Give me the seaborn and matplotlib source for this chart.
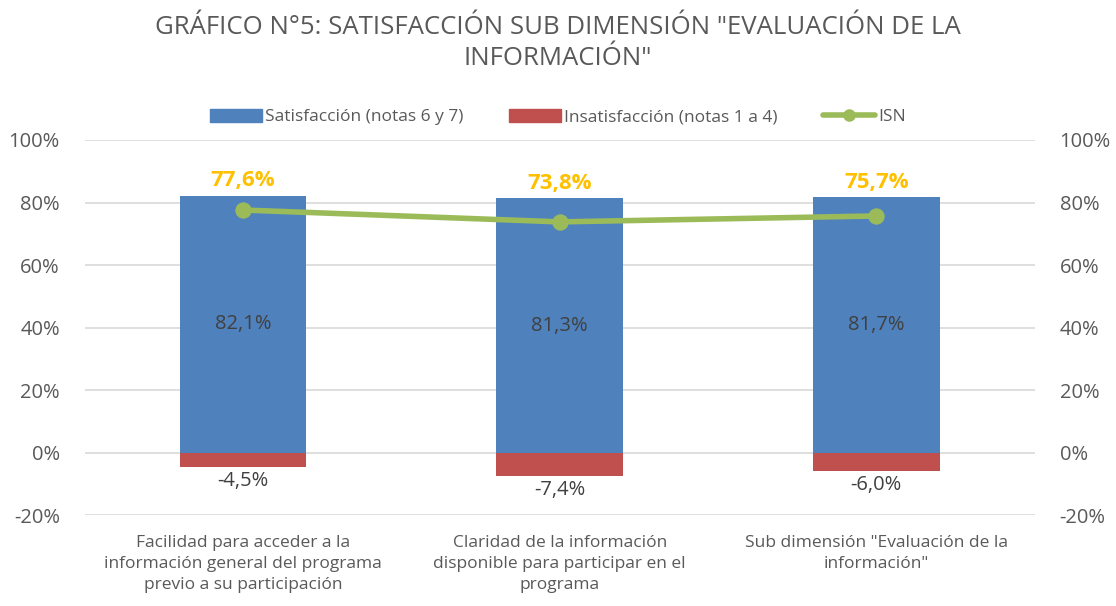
import matplotlib
matplotlib.use('Agg')
import matplotlib.pyplot as plt
import matplotlib.ticker as mtick
from matplotlib.patches import Patch
from matplotlib.lines import Line2D
import pandas as pd
import seaborn as sns

categorias = ['Facilidad para acceder a la\ninformación general del programa\nprevio a su participación',
              'Claridad de la información\ndisponible para participar en el\nprograma',
              'Sub dimensión "Evaluación de la\ninformación"']
satisfaccion = [82.1, 81.3, 81.7]
insatisfaccion = [-4.5, -7.4, -6.0]
isn = [77.6, 73.8, 75.7]

df = pd.DataFrame({'cat': categorias, 'sat': satisfaccion, 'ins': insatisfaccion, 'isn': isn})

sns.set_theme(style='white')
plt.rcParams['font.family'] = ['Open Sans', 'DejaVu Sans']

gris = '#595959'
azul = '#4F81BD'
rojo = '#C0504D'
verde = '#9BBB59'
naranja = '#FFC000'

fig = plt.figure(figsize=(11.16, 6.06), dpi=100)
ax = fig.add_axes([0.076, 0.150, 0.851, 0.619])

# barras
sns.barplot(data=df, x='cat', y='sat', color=azul, saturation=1, width=0.4, ax=ax, zorder=2)
sns.barplot(data=df, x='cat', y='ins', color=rojo, saturation=1, width=0.4, ax=ax, zorder=2)
for p in ax.patches:
    p.set_edgecolor('none')

# linea ISN
pos = list(range(len(categorias)))
sns.lineplot(x=pos, y=isn, color=verde, linewidth=4, marker='o', markersize=11,
             markeredgecolor=verde, ax=ax, zorder=3)

ax.set_xlim(-0.5, 2.5)
ax.set_ylim(-20, 100)
ax.set_yticks(range(-20, 101, 20))
ax.yaxis.set_major_formatter(mtick.FuncFormatter(lambda v, _: f'{v:.0f}%'))
ax.grid(axis='y', color='#d9d9d9', linewidth=1.2, zorder=0)
ax.set_axisbelow(True)
for s in ax.spines.values():
    s.set_visible(False)
ax.set_xlabel('')
ax.set_ylabel('')
ax.tick_params(axis='y', colors=gris, labelsize=14.5, length=0, pad=18)
ax.tick_params(axis='x', colors=gris, labelsize=12.5, length=0, pad=14)
for t in ax.get_xticklabels():
    t.set_linespacing(1.45)

ax2 = ax.twinx()
ax2.set_ylim(-20, 100)
ax2.set_yticks(range(-20, 101, 20))
ax2.yaxis.set_major_formatter(mtick.FuncFormatter(lambda v, _: f'{v:.0f}%'))
for s in ax2.spines.values():
    s.set_visible(False)
ax2.tick_params(axis='y', colors=gris, labelsize=14.5, length=0, pad=18)

# etiquetas
for i in pos:
    ax.text(i, satisfaccion[i] / 2, f'{satisfaccion[i]:.1f}%'.replace('.', ','),
            ha='center', va='center', color='#404040', fontsize=14.5, zorder=4)
    ax.text(i, insatisfaccion[i] - 1.3, f'{insatisfaccion[i]:.1f}%'.replace('.', ','),
            ha='center', va='top', color='#404040', fontsize=14.5, zorder=4)
    ax.text(i, satisfaccion[i] + 1.5, f'{isn[i]:.1f}%'.replace('.', ','),
            ha='center', va='bottom', color=naranja, fontsize=16, fontweight='bold', zorder=4)

handles = [Patch(color=azul, label='Satisfacción (notas 6 y 7)'),
           Patch(color=rojo, label='Insatisfacción (notas 1 a 4)'),
           Line2D([0], [0], color=verde, linewidth=4, marker='o', markersize=8, label='ISN')]
fig.legend(handles=handles, loc='center', bbox_to_anchor=(0.5, 0.807), ncol=3, frameon=False,
           fontsize=12.5, labelcolor=gris, handlelength=3.0, handleheight=0.8, columnspacing=2.6,
           handletextpad=0.2)

fig.suptitle('GRÁFICO N°5: SATISFACCIÓN SUB DIMENSIÓN "EVALUACIÓN DE LA\nINFORMACIÓN"',
             y=0.975, fontsize=18.5, color=gris, linespacing=1.3)

fig.savefig('out.png', dpi=100)
